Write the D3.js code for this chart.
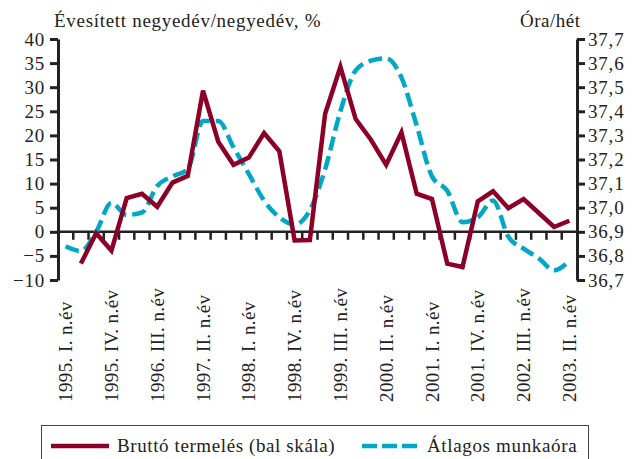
<!DOCTYPE html>
<html>
<head>
<meta charset="utf-8">
<script src="https://cdn.jsdelivr.net/npm/d3@7"></script>
<style>
  body { margin: 0; background: white; }
  svg { display: block; font-family: 'Liberation Serif', 'Times New Roman', serif; }
</style>
</head>
<body>
<script>
// quarters, 1995 Q1 .. 2003 Q2
const quarters = [
  '1995. I. n.év', '1995. II. n.év', '1995. III. n.év', '1995. IV. n.év',
  '1996. I. n.év', '1996. II. n.év', '1996. III. n.év', '1996. IV. n.év',
  '1997. I. n.év', '1997. II. n.év', '1997. III. n.év', '1997. IV. n.év',
  '1998. I. n.év', '1998. II. n.év', '1998. III. n.év', '1998. IV. n.év',
  '1999. I. n.év', '1999. II. n.év', '1999. III. n.év', '1999. IV. n.év',
  '2000. I. n.év', '2000. II. n.év', '2000. III. n.év', '2000. IV. n.év',
  '2001. I. n.év', '2001. II. n.év', '2001. III. n.év', '2001. IV. n.év',
  '2002. I. n.év', '2002. II. n.év', '2002. III. n.év', '2002. IV. n.év',
  '2003. I. n.év', '2003. II. n.év',
];

const tickLabels = [
  '1995. I. n.év', '1995. IV. n.év', '1996. III. n.év', '1997. II. n.év',
  '1998. I. n.év', '1998. IV. n.év', '1999. III. n.év', '2000. II. n.év',
  '2001. I. n.év', '2001. IV. n.év', '2002. III. n.év', '2003. II. n.év',
];

// bruttó termelés, %, left scale
const output = [
  null, -6.6, -0.3, -3.9, 7.0, 7.9, 5.2, 10.2, 11.6, 29.3, 18.7, 13.9,
  15.4, 20.5, 16.7, -1.8, -1.7, 24.5, 34.2, 23.4, 19.1, 13.9, 20.6, 7.9,
  6.8, -6.6, -7.3, 6.3, 8.4, 4.9, 6.8, 3.9, 1.0, 2.3,
];

// átlagos munkaóra, óra/hét, right scale
const hours = [
  36.84, 36.82, 36.9, 37.02, 36.97, 36.98, 37.09, 37.13, 37.16, 37.36,
  37.36, 37.25, 37.14, 37.03, 36.96, 36.93, 36.99, 37.16, 37.4, 37.57,
  37.61, 37.62, 37.54, 37.34, 37.13, 37.07, 36.94, 36.96, 37.03, 36.88,
  36.83, 36.79, 36.74, 36.78,
];

const leftTicks = [40, 35, 30, 25, 20, 15, 10, 5, 0, -5, -10];
const rightTicks = [37.7, 37.6, 37.5, 37.4, 37.3, 37.2, 37.1, 37.0, 36.9, 36.8, 36.7];

const w = 639;
const h = 459;
const red = '#8c0028';
const blue = '#00a8c5';
const ink = '#222';

const svg = d3.select('body').append('svg').attr('width', w).attr('height', h);

const xScale = d3.scaleBand().domain(quarters).range([58, 577]);
const yLeft = d3.scaleLinear().domain([-10, 40]).range([280, 39]);
const yRight = d3.scaleLinear().domain([36.7, 37.7]).range([280, 39]);
const cx = (q) => xScale(q) + xScale.bandwidth() / 2;

// text looks wide in the original, so a bit of letter spacing
const label = (sel, size, spacing) =>
  sel
    .style('font-size', size + 'px')
    .style('letter-spacing', spacing + 'px')
    .style('fill', ink);

// titles
svg
  .append('text')
  .attr('x', 54)
  .attr('y', 27)
  .text('Évesített negyedév/negyedév, %')
  .call(label, 19, 0.7);

svg
  .append('text')
  .attr('x', 520)
  .attr('y', 27)
  .text('Óra/hét')
  .call(label, 19, 0.5);

// left axis
const leftAxis = svg
  .append('g')
  .attr('transform', 'translate(58,0)')
  .call(
    d3.axisLeft(yLeft).tickValues(leftTicks).tickSize(8).tickSizeOuter(0).tickPadding(5)
  );

// right axis
const rightAxis = svg
  .append('g')
  .attr('transform', 'translate(577,0)')
  .call(
    d3
      .axisRight(yRight)
      .tickValues(rightTicks)
      .tickSize(8)
      .tickSizeOuter(0)
      .tickPadding(3)
      .tickFormat((d) => d3.format('.1f')(d).replace('.', ','))
  );

[leftAxis, rightAxis].forEach((g) => {
  g.select('.domain').attr('stroke', ink).attr('stroke-width', 3);
  g.selectAll('.tick line').attr('stroke', ink).attr('stroke-width', 3);
  g.selectAll('.tick text')
    .style('font-family', "'Liberation Serif', serif")
    .call(label, 19, 0.8);
});

// zero line with quarter ticks
svg
  .append('line')
  .attr('x1', 58)
  .attr('x2', 577)
  .attr('y1', yLeft(0))
  .attr('y2', yLeft(0))
  .attr('stroke', ink)
  .attr('stroke-width', 2.5);

svg
  .selectAll('.qtick')
  .data(quarters.slice(1))
  .enter()
  .append('line')
  .attr('class', 'qtick')
  .attr('x1', (d) => xScale(d))
  .attr('x2', (d) => xScale(d))
  .attr('y1', yLeft(0))
  .attr('y2', yLeft(0) + 8)
  .attr('stroke', ink)
  .attr('stroke-width', 2.5);

// x labels, rotated
svg
  .selectAll('.xlabel')
  .data(tickLabels)
  .enter()
  .append('text')
  .attr('class', 'xlabel')
  .attr('transform', (d) => `translate(${cx(d)},402) rotate(-90)`)
  .attr('dy', '0.35em')
  .text((d) => d)
  .call(label, 19, 0.4);

// lines
const hoursLine = d3
  .line()
  .x((d, i) => cx(quarters[i]))
  .y((d) => yRight(d))
  .curve(d3.curveMonotoneX);

const outputLine = d3
  .line()
  .defined((d) => d !== null)
  .x((d, i) => cx(quarters[i]))
  .y((d) => yLeft(d));

svg
  .append('path')
  .datum(hours)
  .attr('d', hoursLine)
  .attr('fill', 'none')
  .attr('stroke', blue)
  .attr('stroke-width', 4.5)
  .attr('stroke-dasharray', '14 6');

svg
  .append('path')
  .datum(output)
  .attr('d', outputLine)
  .attr('fill', 'none')
  .attr('stroke', red)
  .attr('stroke-width', 4.5)
  .attr('stroke-linejoin', 'miter');

// legend
svg
  .append('rect')
  .attr('x', 41.5)
  .attr('y', 425.5)
  .attr('width', 547)
  .attr('height', 40)
  .attr('fill', 'none')
  .attr('stroke', '#444')
  .attr('stroke-width', 1);

svg
  .append('line')
  .attr('x1', 51)
  .attr('x2', 109)
  .attr('y1', 446)
  .attr('y2', 446)
  .attr('stroke', red)
  .attr('stroke-width', 4.5);

svg
  .append('text')
  .attr('x', 117)
  .attr('y', 452)
  .text('Bruttó termelés (bal skála)')
  .call(label, 19, 0.6);

svg
  .append('line')
  .attr('x1', 362)
  .attr('x2', 419)
  .attr('y1', 446)
  .attr('y2', 446)
  .attr('stroke', blue)
  .attr('stroke-width', 4.5)
  .attr('stroke-dasharray', '15 5');

svg
  .append('text')
  .attr('x', 427)
  .attr('y', 452)
  .text('Átlagos munkaóra')
  .call(label, 19, 0.65);
</script>
</body>
</html>
